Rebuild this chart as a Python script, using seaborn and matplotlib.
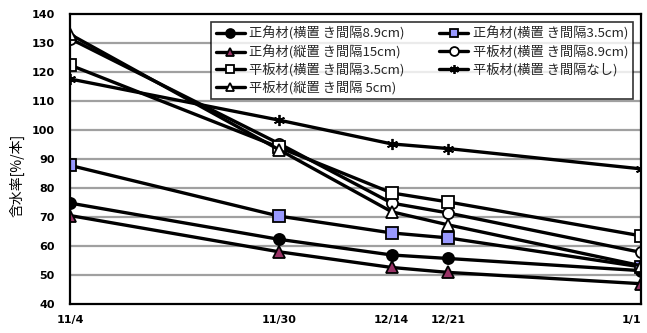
import matplotlib
matplotlib.use("Agg")
import matplotlib.pyplot as plt
import seaborn as sns
import pandas as pd

# Measurement dates (days elapsed since 11/4) and their axis labels
days = [0, 26, 40, 47, 71]
date_labels = ["11/4", "11/30", "12/14", "12/21", "1/1"]

# Moisture content [%/本] per specimen group
kaku_yoko_89 = [74.8, 62.3, 56.9, 55.7, 51.5]
kaku_yoko_35 = [87.8, 70.3, 64.5, 62.8, 52.8]
kaku_tate_15 = [70.5, 58.0, 52.6, 50.9, 47.0]
ita_yoko_89 = [131.5, 95.3, 74.8, 71.4, 57.8]
ita_yoko_35 = [122.4, 94.0, 78.3, 75.2, 63.5]
ita_yoko_nashi = [117.6, 103.4, 95.2, 93.6, 86.6]
ita_tate_5 = [133.0, 93.2, 71.8, 67.3, 53.2]

series_names = [
    "正角材(横置 き間隔8.9cm)",
    "正角材(横置 き間隔3.5cm)",
    "正角材(縦置 き間隔15cm)",
    "平板材(横置 き間隔8.9cm)",
    "平板材(横置 き間隔3.5cm)",
    "平板材(横置 き間隔なし)",
    "平板材(縦置 き間隔 5cm)",
]
series_values = [kaku_yoko_89, kaku_yoko_35, kaku_tate_15,
                 ita_yoko_89, ita_yoko_35, ita_yoko_nashi, ita_tate_5]

# marker shape and face colour for each group
styles = [
    ("o", "black"),
    ("s", "#9999ff"),
    ("^", "#993366"),
    ("o", "white"),
    ("s", "white"),
    ((6, 2, 0), "black"),
    ("^", "white"),
]

sns.set_theme(style="white")
plt.rcParams["font.family"] = ["Noto Sans CJK JP", "DejaVu Sans"]

fig = plt.figure(figsize=(6.47, 3.33), dpi=100)
ax = fig.add_axes([70 / 647, 1 - 304 / 333, 571 / 647, 290 / 333])

for name, vals, (mk, fc) in zip(series_names, series_values, styles):
    df = pd.DataFrame({"day": days, "value": vals})
    sns.lineplot(data=df, x="day", y="value", ax=ax, color="black",
                 linewidth=2.4, marker=mk, markersize=8,
                 markerfacecolor=fc, markeredgecolor="black",
                 markeredgewidth=1.3, label=name, zorder=3)

ax.set_xlim(days[0], days[-1])
ax.set_ylim(40, 140)
ax.set_yticks(range(40, 141, 10))
ax.set_xticks(days)
ax.set_xticklabels(date_labels)

for yv in range(50, 140, 10):
    ax.axhline(yv, color="#a0a0a0", linewidth=1.6, zorder=1)

for sp in ax.spines.values():
    sp.set_color("black")
    sp.set_linewidth(1.6)
    sp.set_zorder(4)

ax.tick_params(axis="y", length=0, pad=11, labelsize=8, labelcolor="black")
ax.tick_params(axis="x", direction="in", length=5, width=1.5, color="black",
               pad=8, labelsize=8, labelcolor="black")
for lab in ax.get_xticklabels() + ax.get_yticklabels():
    lab.set_family(["DejaVu Sans"])
    lab.set_fontweight("bold")
ax.get_xticklabels()[-1].set_horizontalalignment("right")

ax.set_xlabel("")
ax.set_ylabel("含水率[%/本]", fontsize=10, color="black")
ax.yaxis.set_label_coords(-0.079, 0.445)

# two-column legend filled row by row
handles, labels = ax.get_legend_handles_labels()
order = [0, 2, 4, 6, 1, 3, 5]
leg = ax.legend([handles[i] for i in order], [labels[i] for i in order],
                ncol=2, loc="upper right", bbox_to_anchor=(0.986, 0.972),
                frameon=True, fancybox=False, fontsize=9.5, markerscale=0.8,
                handlelength=2.2, handletextpad=0.35, columnspacing=2.6,
                labelspacing=0.3, borderpad=0.35, borderaxespad=0)
leg.get_frame().set_edgecolor("black")
leg.get_frame().set_linewidth(1.2)
leg.set_zorder(5)

fig.savefig("out.png", dpi=100)
